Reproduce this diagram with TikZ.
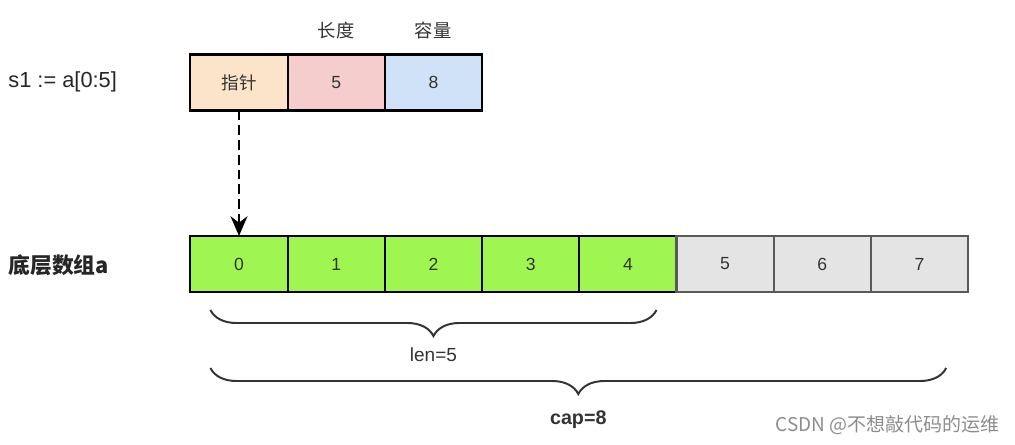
\documentclass[tikz,border=0pt]{standalone}
\usepackage{fontspec}
\setmainfont{Liberation Sans}
\newfontfamily\cjk{Noto Sans CJK SC}
\usepackage{tikz}
\usetikzlibrary{arrows, arrows.meta, calc, positioning, decorations.pathreplacing}

\definecolor{ptrorange}{HTML}{FCE4CA}
\definecolor{lenred}{HTML}{F6CDCD}
\definecolor{capblue}{HTML}{CFE2F8}
\definecolor{elemgreen}{HTML}{A0F650}
\definecolor{elemgrey}{HTML}{E4E4E4}
\definecolor{textgrey}{HTML}{333333}

\begin{document}
\begin{tikzpicture}[>={Stealth[length=14pt,width=12pt]}, semithick, x=0.025cm, y=-0.025cm,
    cell/.style={draw=black, line width=1.5pt, minimum width=2.43cm, minimum height=1.4cm,
                 inner sep=0pt, outer sep=0pt, text=textgrey, font=\fontsize{12.5}{14}\selectfont},
    greycell/.style={cell, draw=black!65, fill=elemgrey},
    greencell/.style={cell, fill=elemgreen},
    label/.style={text=textgrey, font=\fontsize{13}{15}\selectfont},
    sidelabel/.style={text=black!85, anchor=west, inner sep=0pt, font=\fontsize{15.5}{18}\selectfont},
    curly/.style={decorate, decoration={brace, mirror, amplitude=0.65cm}, line width=1.4pt, draw=textgrey}]

    \useasboundingbox (0,0) rectangle (1015,445);

    % slice header
    \node[cell, fill=ptrorange]             (ptr) at (239,82.5) {\cjk 指针};
    \node[cell, fill=lenred, right=0pt of ptr] (len) {5};
    \node[cell, fill=capblue, right=0pt of len] (cap) {8};
    \node[label] (lenname) at (336,31) {\cjk 长度};
    \node[label] (capname) at (433,31) {\cjk 容量};
    \node[sidelabel] (s1) at (8,82) {s1 := a[0:5]};

    % backing array
    \node[greencell] (e0) at (239,264) {0};
    \foreach \i [count=\j from 0] in {1,...,4}
        \node[greencell, right=0pt of e\j] (e\i) {\i};
    \foreach \i [count=\j from 4] in {5,...,7}
        \node[greycell, right=0pt of e\j] (e\i) {\i};
    \node[sidelabel] (arr) at (8,265) {\cjk\bfseries 底层数组a};

    \draw[->, line width=1.6pt, dash pattern=on 7pt off 3.5pt] (ptr.south) -- (e0.north);

    % len and cap
    \coordinate (lenL) at ($(e0.south west)+(20,18)$);
    \coordinate (lenR) at ($(e4.south east)+(-20,18)$);
    \coordinate (capL) at ($(e0.south west)+(20,76)$);
    \coordinate (capR) at ($(e7.south east)+(-22,76)$);
    \draw[curly] (lenL) -- (lenR);
    \draw[curly] (capL) -- (capR);
    \node[label, font=\fontsize{13.5}{15}\selectfont] (lentxt) at ($(lenL)!0.5!(lenR)+(0,45)$) {len=5};
    \node[label, font=\fontsize{14}{16}\selectfont\bfseries] (captxt) at ($(capL)!0.5!(capR)+(0,52)$) {cap=8};

    \node[anchor=east, inner sep=0pt, text=black!45, font=\cjk\fontsize{13.5}{16}\selectfont] (mark) at (1000,425) {CSDN @不想敲代码的运维};
\end{tikzpicture}
\end{document}
